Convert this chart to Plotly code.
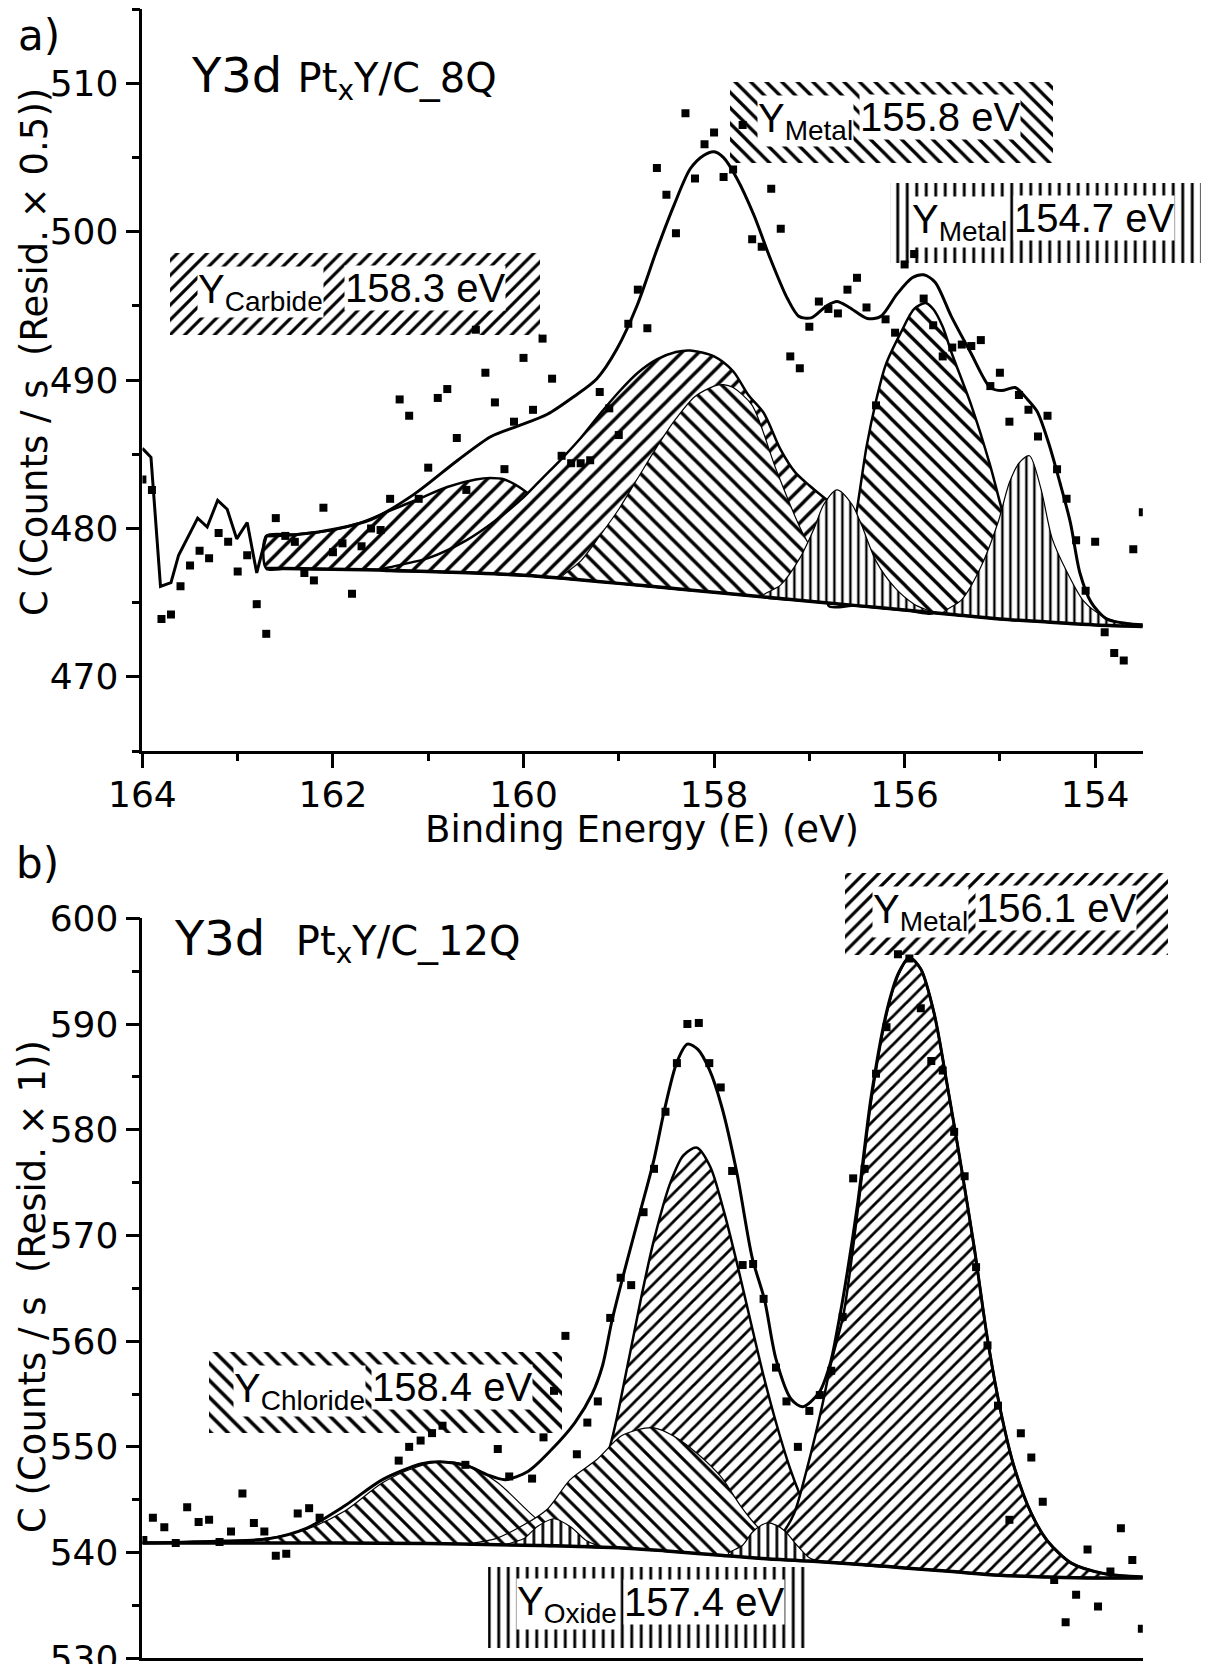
import plotly.graph_objects as go

W, H = 1210, 1664

# ======================= Panel a) : Pt_xY/C_8Q =======================
a_E = [164.0, 163.9, 163.8, 163.7, 163.6, 163.5, 163.4, 163.3, 163.2, 163.1,
       163.0, 162.9, 162.8, 162.7, 162.6, 162.5, 162.4, 162.3, 162.2, 162.1,
       162.0, 161.9, 161.8, 161.7, 161.6, 161.5, 161.4, 161.3, 161.2, 161.1,
       161.0, 160.9, 160.8, 160.7, 160.6, 160.5, 160.4, 160.3, 160.2, 160.1,
       160.0, 159.9, 159.8, 159.7, 159.6, 159.5, 159.4, 159.3, 159.2, 159.1,
       159.0, 158.9, 158.8, 158.7, 158.6, 158.5, 158.4, 158.3, 158.2, 158.1,
       158.0, 157.9, 157.8, 157.7, 157.6, 157.5, 157.4, 157.3, 157.2, 157.1,
       157.0, 156.9, 156.8, 156.7, 156.6, 156.5, 156.4, 156.3, 156.2, 156.1,
       156.0, 155.9, 155.8, 155.7, 155.6, 155.5, 155.4, 155.3, 155.2, 155.1,
       155.0, 154.9, 154.8, 154.7, 154.6, 154.5, 154.4, 154.3, 154.2, 154.1,
       154.0, 153.9, 153.8, 153.7, 153.6, 153.5]
a_counts = [483.3, 482.6, 473.9, 474.2, 476.1, 477.5, 478.5, 478.0, 479.7, 479.1,
            477.1, 478.2, 474.9, 472.9, 480.7, 479.5, 479.1, 477.0, 476.5, 481.4,
            478.4, 479.0, 475.6, 478.8, 480.0, 479.9, 482.0, 488.7, 487.6, 482.0,
            484.1, 488.8, 489.4, 486.1, 482.6, 493.4, 490.5, 488.5, 484.0, 487.2,
            491.5, 488.0, 492.8, 490.1, 484.9, 484.4, 484.4, 484.6, 489.2, 488.1,
            486.3, 493.8, 496.1, 493.5, 504.3, 502.5, 499.9, 508.0, 503.6, 505.9,
            506.7, 503.7, 504.2, 507.2, 499.5, 499.0, 502.9, 500.2, 491.6, 490.8,
            493.6, 495.3, 494.8, 494.5, 496.1, 496.9, 494.9, 488.3, 494.1, 493.2,
            497.8, 498.5, 495.5, 493.7, 491.6, 492.2, 492.4, 492.3, 492.7, 489.6,
            490.5, 487.2, 489.0, 488.0, 486.2, 487.6, 484.0, 482.0, 479.2, 475.8,
            479.1, 473.0, 471.6, 471.1, 478.6, 481.1]

# envelope outside the fit window (drawn straight)
a_raw_E = [164.00, 163.91, 163.81, 163.70, 163.62, 163.42, 163.32, 163.21,
           163.11, 163.01, 162.90, 162.80, 162.70]
a_raw_Y = [485.4, 484.8, 476.1, 476.35, 478.2, 480.7, 480.1, 481.9,
           481.3, 479.3, 480.4, 477.0, 479.5]

# fitted envelope
a_env_E = [162.70, 162.37, 161.95, 161.60, 161.15, 160.69, 160.34, 160.06, 159.75,
           159.47, 159.23, 159.02, 158.81, 158.60, 158.42, 158.25, 158.11, 158.00,
           157.90, 157.76, 157.58, 157.41, 157.23, 157.11, 156.98, 156.82, 156.71,
           156.58, 156.39, 156.25, 156.08, 155.92, 155.80, 155.68, 155.51, 155.31,
           155.10, 154.98, 154.84, 154.71, 154.61, 154.49, 154.37, 154.26, 154.16,
           154.04, 153.88, 153.67, 153.49]
a_env_Y = [479.5, 479.6, 480.0, 480.6, 482.3, 484.6, 486.2, 486.9, 487.7,
           488.9, 490.1, 492.1, 495.0, 498.8, 501.8, 504.25, 505.15, 505.4,
           505.0, 503.6, 501.1, 498.2, 495.5, 494.3, 494.2, 495.0, 495.3,
           494.9, 494.15, 494.3, 495.8, 496.9, 497.1, 496.6, 494.3, 491.9,
           489.5, 489.3, 489.5, 488.7, 487.9, 485.8, 483.1, 480.4, 477.0,
           475.0, 473.9, 473.6, 473.5]

# background
a_bg_E = [162.7, 162.5, 162.0, 161.5, 161.0, 160.5, 160.0, 159.5, 159.0, 158.5,
          158.0, 157.5, 157.0, 156.5, 156.0, 155.5, 155.0, 154.5, 154.0, 153.5]
a_bg_Y = [477.3, 477.3, 477.25, 477.2, 477.1, 477.0, 476.85, 476.6, 476.3, 476.0,
          475.7, 475.4, 475.1, 474.8, 474.5, 474.2, 473.9, 473.7, 473.5, 473.4]

# components (absolute curve = background + component)
a_carb32_E = [162.7, 162.7, 162.4, 162.0, 161.7, 161.4, 161.1, 160.8, 160.5, 160.35,
              160.2, 160.0, 159.8, 159.6, 159.4, 159.2, 159.0, 158.8, 158.5, 158.2]
a_carb32_Y = [477.3, 479.5, 479.6, 479.9, 480.4, 481.2, 482.0, 482.8, 483.3, 483.4,
              483.3, 482.6, 481.5, 480.2, 479.2, 478.4, 477.7, 477.1, 476.4, 475.85]

a_carb52_E = [161.5, 161.0, 160.6, 160.3, 160.0, 159.8, 159.6, 159.4, 159.2, 159.0,
              158.8, 158.6, 158.4, 158.25, 158.0, 157.8, 157.64, 157.48, 157.3, 157.15,
              157.0, 156.85, 156.6, 156.3, 156.0, 155.7]
a_carb52_Y = [477.2, 478.0, 479.2, 480.5, 482.1, 483.4, 484.7, 486.1, 487.7, 489.2,
              490.5, 491.4, 491.9, 492.0, 491.6, 490.6, 489.0, 487.8, 485.3, 483.8,
              482.9, 482.1, 480.8, 478.6, 476.3, 474.3]

a_met1_32_E = [159.6, 159.4, 159.2, 159.0, 158.8, 158.6, 158.4, 158.2, 158.0, 157.9,
               157.8, 157.6, 157.35, 157.07, 156.8, 156.5, 156.2, 156.0]
a_met1_32_Y = [476.7, 477.8, 479.5, 481.3, 483.4, 485.5, 487.4, 488.9, 489.6, 489.7,
               489.5, 488.3, 484.0, 479.7, 477.0, 475.5, 474.7, 474.5]

a_met2_32_E = [157.5, 157.3, 157.1, 156.95, 156.85, 156.71, 156.55, 156.45, 156.3,
               156.1, 155.9, 155.7]
a_met2_32_Y = [475.4, 476.2, 478.0, 480.0, 481.6, 482.6, 481.6, 480.2, 477.8,
               476.0, 474.9, 474.3]

a_met1_52_E = [156.8, 156.6, 156.5, 156.4, 156.3, 156.2, 156.04, 155.9, 155.78, 155.7,
               155.6, 155.51, 155.3, 155.1, 154.98, 154.8, 154.6, 154.4, 154.2]
a_met1_52_Y = [474.8, 477.8, 481.3, 485.5, 488.6, 491.0, 493.2, 494.8, 495.2, 494.8,
               493.6, 491.9, 488.3, 484.2, 481.3, 477.5, 475.0, 474.0, 473.6]

a_met2_52_E = [155.6, 155.4, 155.2, 155.02, 154.9, 154.8, 154.69, 154.57, 154.45,
               154.29, 154.12, 153.92, 153.7, 153.5]
a_met2_52_Y = [474.3, 475.2, 477.4, 480.4, 483.1, 484.4, 484.9, 482.7, 479.3,
               477.0, 475.1, 474.1, 473.6, 473.4]

# ======================= Panel b) : Pt_xY/C_12Q =======================
b_E = [163.99, 163.89, 163.77, 163.65, 163.53, 163.41, 163.30, 163.19, 163.07, 162.95,
       162.83, 162.72, 162.60, 162.49, 162.37, 162.25, 162.14, 161.31, 161.20, 161.08,
       160.96, 160.85, 160.61, 160.27, 160.15, 159.91, 159.79, 159.68, 159.56, 159.44,
       159.33, 159.22, 159.09, 158.98, 158.87, 158.74, 158.63, 158.51, 158.39, 158.28,
       158.16, 158.05, 157.93, 157.81, 157.70, 157.59, 157.48, 157.35, 157.24, 157.12,
       157.00, 156.89, 156.77, 156.65, 156.54, 156.42, 156.30, 156.19, 156.07, 155.95,
       155.83, 155.72, 155.60, 155.48, 155.37, 155.25, 155.13, 155.02, 154.90, 154.78,
       154.67, 154.55, 154.43, 154.31, 154.20, 154.08, 153.97, 153.84, 153.73, 153.61,
       153.51]
b_counts = [541.2, 543.3, 542.4, 540.9, 544.3, 542.9, 543.1, 541.0, 542.0, 545.6,
            542.8, 542.0, 539.7, 539.9, 543.7, 544.2, 543.3, 548.7, 550.0, 550.6,
            551.3, 552.0, 548.3, 549.8, 547.2, 547.0, 550.9, 555.3, 560.5, 549.3,
            552.3, 554.3, 562.2, 566.0, 565.3, 572.2, 576.3, 581.7, 586.3, 590.0,
            590.1, 586.3, 584.0, 576.1, 567.2, 567.3, 564.0, 557.5, 554.3, 550.0,
            553.4, 554.9, 557.2, 562.3, 575.4, 576.3, 585.3, 589.7, 596.6, 596.2,
            591.5, 586.5, 585.6, 579.8, 575.6, 567.0, 559.6, 553.9, 543.1, 551.3,
            549.0, 544.8, 537.4, 533.4, 536.0, 540.3, 534.9, 538.2, 542.3, 539.3,
            532.8]

b_env_E = [164.00, 163.16, 162.68, 162.28, 161.88, 161.48, 161.07, 160.87, 160.59,
           160.39, 160.19, 159.95, 159.71, 159.46, 159.28, 159.17, 159.07, 158.91,
           158.77, 158.63, 158.52, 158.39, 158.28, 158.17, 158.05, 157.92, 157.76,
           157.60, 157.47, 157.35, 157.19, 157.07, 156.90, 156.78, 156.70, 156.62,
           156.49, 156.35, 156.18, 156.06, 155.95, 155.83, 155.69, 155.55, 155.41,
           155.27, 155.13, 154.99, 154.85, 154.67, 154.50, 154.25, 153.90, 153.49]
b_env_Y = [540.9, 541.1, 541.3, 542.3, 544.4, 546.9, 548.4, 548.6, 548.2,
           547.4, 546.9, 547.7, 549.7, 552.3, 555.0, 557.7, 562.0, 567.7,
           572.4, 577.2, 581.9, 586.4, 588.1, 587.6, 585.7, 582.2, 575.9,
           567.9, 563.9, 558.3, 554.5, 553.8, 555.1, 557.9, 561.4, 565.5,
           573.2, 583.2, 591.5, 594.9, 596.3, 595.2, 591.0, 584.1, 576.7,
           568.9, 560.2, 553.3, 548.1, 543.7, 541.1, 539.0, 538.0, 537.7]

b_bg_E = [164.0, 163.0, 162.0, 161.0, 160.0, 159.5, 159.0, 158.5, 158.0, 157.5,
          157.0, 156.5, 156.0, 155.5, 155.0, 154.5, 154.0, 153.5]
b_bg_Y = [540.9, 540.9, 540.9, 540.85, 540.7, 540.6, 540.45, 540.15, 539.8, 539.45,
          539.2, 538.9, 538.55, 538.2, 537.85, 537.7, 537.6, 537.6]

b_chl32_E = [163.5, 163.0, 162.6, 162.28, 161.88, 161.48, 161.15, 160.87, 160.59,
             160.27, 159.95, 159.71, 159.45]
b_chl32_Y = [540.9, 541.1, 541.5, 542.2, 543.9, 546.6, 548.0, 548.6, 548.3,
             546.6, 543.9, 542.0, 540.6]

b_ox32_E = [160.2, 160.0, 159.85, 159.68, 159.5, 159.35, 159.2]
b_ox32_Y = [540.7, 541.3, 542.5, 543.2, 542.4, 541.2, 540.5]

b_chl52_E = [160.6, 160.3, 160.0, 159.75, 159.51, 159.23, 158.98, 158.81, 158.63,
             158.42, 158.18, 157.93, 157.72, 157.58, 157.4, 157.2, 157.0, 156.8]
b_chl52_Y = [540.75, 541.3, 542.6, 544.1, 546.9, 548.8, 551.0, 551.6, 551.8,
             551.0, 549.4, 547.2, 544.4, 542.8, 541.2, 540.1, 539.4, 539.1]

b_ox52_E = [157.85, 157.7, 157.6, 157.5, 157.44, 157.35, 157.25, 157.15, 157.0, 156.9]
b_ox52_Y = [539.9, 540.7, 541.9, 542.6, 542.8, 542.6, 542.0, 540.9, 539.5, 539.15]

b_met32_E = [159.8, 159.6, 159.4, 159.11, 158.91, 158.77, 158.63, 158.46, 158.32,
             158.18, 158.04, 157.90, 157.76, 157.62, 157.48, 157.34, 157.20, 157.06,
             156.90, 156.74, 156.49, 156.2]
b_met32_Y = [540.75, 541.8, 543.6, 549.5, 557.6, 563.9, 569.6, 574.95, 577.6,
             578.3, 576.5, 572.4, 567.4, 562.0, 556.7, 552.0, 547.9, 544.7,
             542.2, 540.3, 539.2, 538.65]

b_met52_E = [157.6, 157.45, 157.30, 157.16, 157.02, 156.87, 156.77, 156.64, 156.49,
             156.35, 156.18, 156.06, 155.95, 155.83, 155.69, 155.55, 155.41, 155.27,
             155.13, 154.99, 154.85, 154.67, 154.50, 154.25, 154.00, 153.75, 153.5]
b_met52_Y = [539.6, 540.3, 541.6, 543.7, 548.1, 553.7, 558.0, 562.6, 572.5,
             582.8, 591.3, 594.8, 596.3, 595.2, 591.0, 584.1, 576.7, 568.9,
             560.2, 553.3, 548.1, 543.7, 541.1, 539.0, 538.2, 537.8, 537.6]

# tick values
x_major = [164, 162, 160, 158, 156, 154]
x_minor = [163, 161, 159, 157, 155]
a_y_major = [470, 480, 490, 500, 510]
a_y_minor = [465, 475, 485, 495, 505, 515]
b_y_major = [530, 540, 550, 560, 570, 580, 590, 600]
b_y_minor = [535, 545, 555, 565, 575, 585, 595]

# ======================= figure =======================
fig = go.Figure()


def comp_poly(cE, cY, bE, bY):
    lo, hi = min(cE), max(cE)
    inside = sorted([(e, y) for e, y in zip(bE, bY) if lo < e < hi])
    xs = list(cE) + [e for e, _ in inside] + [cE[0]]
    ys = list(cY) + [y for _, y in inside] + [cY[0]]
    return xs, ys


def add_comp(cE, cY, bE, bY, shape, size, lw, xa, ya, solidity=0.28):
    xs, ys = comp_poly(cE, cY, bE, bY)
    fig.add_trace(go.Scatter(
        x=xs, y=ys, xaxis=xa, yaxis=ya, mode="lines", fill="toself",
        line=dict(color="black", width=lw, shape="spline", smoothing=0.8),
        fillcolor="white",
        fillpattern=dict(shape=shape, size=size, solidity=solidity,
                         fgcolor="black", bgcolor="white", fillmode="replace"),
        hoverinfo="skip", showlegend=False))


# ---- panel a components (drawing order matters: later ones are on top)
add_comp(a_carb32_E, a_carb32_Y, a_bg_E, a_bg_Y, "/", 12, 2.5, "x", "y")
add_comp(a_carb52_E, a_carb52_Y, a_bg_E, a_bg_Y, "/", 12, 2.5, "x", "y")
add_comp(a_met1_32_E, a_met1_32_Y, a_bg_E, a_bg_Y, "\\", 12, 1.2, "x", "y")
add_comp(a_met1_52_E, a_met1_52_Y, a_bg_E, a_bg_Y, "\\", 12, 2.5, "x", "y")
add_comp(a_met2_32_E, a_met2_32_Y, a_bg_E, a_bg_Y, "|", 8, 1.2, "x", "y", 0.3)
add_comp(a_met2_52_E, a_met2_52_Y, a_bg_E, a_bg_Y, "|", 8, 1.2, "x", "y", 0.3)

fig.add_trace(go.Scatter(x=a_bg_E, y=a_bg_Y, xaxis="x", yaxis="y", mode="lines",
                         line=dict(color="black", width=3.5, shape="spline"),
                         hoverinfo="skip", showlegend=False))
fig.add_trace(go.Scatter(x=a_raw_E, y=a_raw_Y, xaxis="x", yaxis="y", mode="lines",
                         line=dict(color="black", width=3),
                         hoverinfo="skip", showlegend=False))
fig.add_trace(go.Scatter(x=a_env_E, y=a_env_Y, xaxis="x", yaxis="y", mode="lines",
                         line=dict(color="black", width=3, shape="spline", smoothing=0.8),
                         hoverinfo="skip", showlegend=False))
fig.add_trace(go.Scatter(x=a_E, y=a_counts, xaxis="x", yaxis="y", mode="markers",
                         marker=dict(symbol="square", size=8, color="black"),
                         hoverinfo="skip", showlegend=False))

# ---- panel b components
add_comp(b_chl32_E, b_chl32_Y, b_bg_E, b_bg_Y, "\\", 11, 1.2, "x2", "y2")
add_comp(b_met32_E, b_met32_Y, b_bg_E, b_bg_Y, "/", 10, 2.5, "x2", "y2")
add_comp(b_met52_E, b_met52_Y, b_bg_E, b_bg_Y, "/", 10, 2.5, "x2", "y2")
add_comp(b_chl52_E, b_chl52_Y, b_bg_E, b_bg_Y, "\\", 11, 1.2, "x2", "y2")
add_comp(b_ox32_E, b_ox32_Y, b_bg_E, b_bg_Y, "|", 9, 1.2, "x2", "y2", 0.3)
add_comp(b_ox52_E, b_ox52_Y, b_bg_E, b_bg_Y, "|", 9, 1.2, "x2", "y2", 0.3)

fig.add_trace(go.Scatter(x=b_bg_E, y=b_bg_Y, xaxis="x2", yaxis="y2", mode="lines",
                         line=dict(color="black", width=3.5, shape="spline"),
                         hoverinfo="skip", showlegend=False))
fig.add_trace(go.Scatter(x=b_env_E, y=b_env_Y, xaxis="x2", yaxis="y2", mode="lines",
                         line=dict(color="black", width=3, shape="spline", smoothing=0.8),
                         hoverinfo="skip", showlegend=False))
fig.add_trace(go.Scatter(x=b_E, y=b_counts, xaxis="x2", yaxis="y2", mode="markers",
                         marker=dict(symbol="square", size=8, color="black"),
                         hoverinfo="skip", showlegend=False))

# ---- hatched label boxes (figure-pixel overlay axes)
label_boxes = [
    # (x0, x1, y0, y1, pattern, size)
    (170, 540, 253, 335, "/", 10.5),
    (730, 1053, 82, 163, "\\", 11),
    (890, 1201, 183, 263, "|", 9.5),
    (845, 1168, 873, 955, "/", 10.5),
    (209, 562, 1352, 1433, "\\", 12),
    (488, 810, 1567, 1648, "|", 9.5),
]
for x0, x1, y0, y1, shp, sz in label_boxes:
    fig.add_trace(go.Scatter(
        x=[x0, x1, x1, x0, x0], y=[y0, y0, y1, y1, y0], xaxis="x3", yaxis="y3",
        mode="none", fill="toself", fillcolor="rgba(0,0,0,0)",
        fillpattern=dict(shape=shp, size=sz, solidity=0.3, fgcolor="black",
                         fillmode="replace"),
        hoverinfo="skip", showlegend=False))

# ---- layout
FONT = "DejaVu Sans"
LFONT = "Liberation Sans"
xdom = [142.4 / W, 1142.8 / W]
axis_common = dict(showgrid=False, zeroline=False, showline=True, linecolor="black",
                   linewidth=2.5, tickwidth=2.5, tickcolor="black", automargin=False,
                   ticklabeloverflow="allow",
                   tickfont=dict(family=FONT, size=36, color="black"))
minor_x = dict(tickmode="array", tickvals=x_minor, ticks="outside",
               ticklen=7.5, tickwidth=2.5, tickcolor="black")

fig.update_layout(
    width=W, height=H, margin=dict(l=0, r=0, t=0, b=0, pad=0, autoexpand=False),
    paper_bgcolor="white", plot_bgcolor="rgba(0,0,0,0)", showlegend=False,
    xaxis=dict(domain=xdom, range=[164, 153.5], anchor="y", tickmode="array",
               tickvals=x_major, ticks="outside", ticklen=14, minor=minor_x,
               ticklabelstandoff=-4, **axis_common),
    yaxis=dict(domain=[1 - 751 / H, 1 - 9.3 / H], range=[465, 515], anchor="x",
               tickmode="array", tickvals=a_y_major, ticks="outside", ticklen=14,
               minor=dict(tickmode="array", tickvals=a_y_minor, ticks="outside",
                          ticklen=7.5, tickwidth=2.5, tickcolor="black"),
               **axis_common),
    xaxis2=dict(domain=xdom, range=[164, 153.5], anchor="y2", tickmode="array",
                tickvals=x_major, ticks="", showticklabels=False,
                **axis_common),
    yaxis2=dict(domain=[1 - 1658.3 / H, 1 - 918.3 / H], range=[530, 600], anchor="x2",
                tickmode="array", tickvals=b_y_major, ticks="outside", ticklen=14,
                minor=dict(tickmode="array", tickvals=b_y_minor, ticks="outside",
                           ticklen=7.5, tickwidth=2.5, tickcolor="black"),
                **axis_common),
    xaxis3=dict(domain=[0, 1], range=[0, W], visible=False, anchor="y3"),
    yaxis3=dict(domain=[0, 1], range=[H, 0], visible=False, anchor="x3"),
)


def ann(text, px, py, size, family=FONT, xanchor="left", yanchor="middle",
        bg=None, angle=0):
    d = dict(text=text, x=px / W, y=1 - py / H, xref="paper", yref="paper",
             showarrow=False, xanchor=xanchor, yanchor=yanchor, textangle=angle,
             font=dict(family=family, size=size, color="black"), borderpad=0)
    if bg:
        d["bgcolor"] = bg
    fig.add_annotation(**d)


# panel letters and titles
ann("a)", 17, 35, 42)
ann("b)", 15, 863, 42)
ann("Y3d <span style='font-size:40px'>Pt<sub>x</sub>Y/C_8Q</span>", 190, 77, 48)
ann("Y3d&nbsp;&nbsp;<span style='font-size:40px'>Pt<sub>x</sub>Y/C_12Q</span>", 173, 940, 48)

# axis titles
ann("Binding Energy (E) (eV)", 642, 830, 37, xanchor="center")
ann("C (Counts / s  (Resid. × 0.5))", 34, 352, 37, xanchor="center", angle=-90)
ann("C (Counts / s  (Resid. × 1))", 32, 1287, 37, xanchor="center", angle=-90)

# box labels
box_texts = [
    ("Y<sub>Carbide</sub>", 197, 292, "158.3 eV", 344, 288),
    ("Y<sub>Metal</sub>", 757, 121, "155.8 eV", 859, 117),
    ("Y<sub>Metal</sub>", 911, 222, "154.7 eV", 1013, 218),
    ("Y<sub>Metal</sub>", 872, 912, "156.1 eV", 975, 908),
    ("Y<sub>Chloride</sub>", 233, 1391, "158.4 eV", 371, 1387),
    ("Y<sub>Oxide</sub>", 516, 1604, "157.4 eV", 623, 1602),
]
for t1, x1, y1, t2, x2, y2 in box_texts:
    ann(t1, x1, y1, 40, family=LFONT, bg="white")
    ann(t2, x2, y2, 40, family=LFONT, bg="white")

fig.write_html("out.html")
